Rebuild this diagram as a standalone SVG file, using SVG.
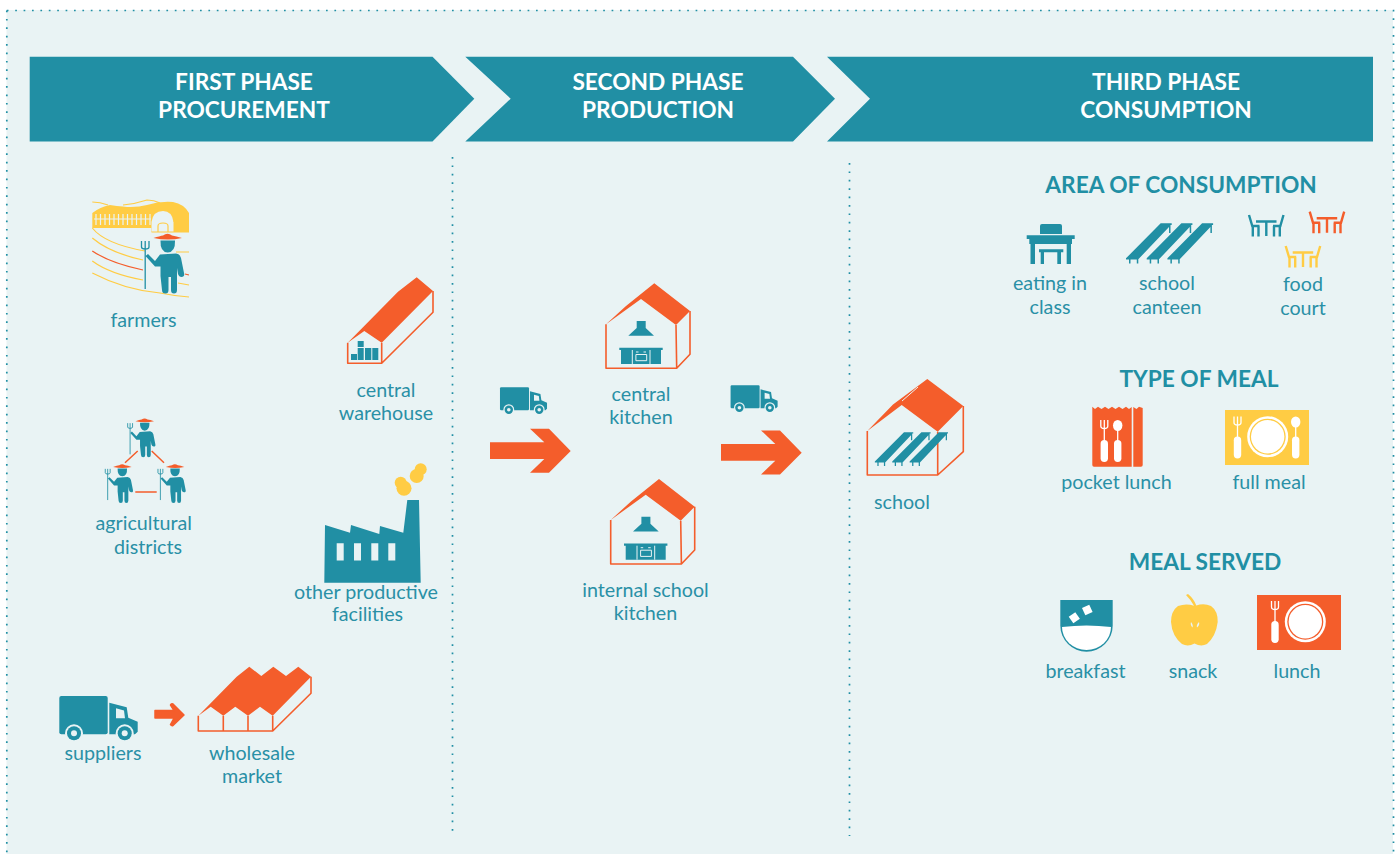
<svg xmlns="http://www.w3.org/2000/svg" xmlns:xlink="http://www.w3.org/1999/xlink" width="1399" height="854" viewBox="0 0 1399 854">
<style>
text{font-family:Lato,"Liberation Sans",sans-serif;text-anchor:middle}
.l{font-size:19.700px;fill:#2a90a6}
.h{font-size:22.700px;font-weight:700;fill:#fff}
.s{font-size:22.700px;font-weight:700;fill:#218fa4}
.t{fill:#218fa4}.o{fill:#f45d2b}.y{fill:#ffcc44}.w{fill:#fff}.b{fill:#e9f3f4}
.ol{fill:none;stroke:#f45d2b;stroke-width:1.600;stroke-linejoin:round}
.d{fill:none;stroke:#218fa4;stroke-width:1.700;stroke-dasharray:1.700 6.700}
.ch{fill:none;stroke-width:2.400}
</style>
<defs>
<g id="farmer">
<path class="o" d="M153.500 238Q160 236 163 235.500Q167.500 232 172 235.500Q176 236 182 238Q168 241 153.500 238Z"/>
<path class="t" d="M160.500 240.500H175Q175.500 252 167.700 252.500Q160 252 160.500 240.500Z"/>
<path class="t" d="M145.500 256L148 254L155 261L160 254.500L176 253.500Q180 254 181 258L184 273Q185 277 181.500 277Q179 277 178 274L177 268V290Q177 293.500 174 293.500Q171 293.500 171 290V277H168.500V290Q168.500 293.500 165.500 293.500Q162 293.500 162 290L160.500 276V266.500H155Z"/>
<path fill="none" stroke="#218fa4" stroke-width="1.300" d="M145.200 241V289M141.500 241V247Q141.500 249 145.200 249Q149 249 149 247V241"/>
</g>
<g id="truck">
<rect class="t" x="59.300" y="696" width="48.400" height="38.300" rx="2"/>
<path class="t" d="M109.300 702.700L126.700 707.300L128.300 717.700L137.700 721.700V731.700L135 734.300H109.300Z"/>
<path class="b" d="M116 708.300L124 710.500L125 718.300H116Z"/>
<circle class="b" cx="74" cy="733.300" r="9"/><circle class="t" cx="74" cy="733.300" r="7"/><circle class="b" cx="74" cy="733.300" r="3"/>
<circle class="b" cx="124.700" cy="733.300" r="9"/><circle class="t" cx="124.700" cy="733.300" r="7"/><circle class="b" cx="124.700" cy="733.300" r="3"/>
</g>
<g id="kitchen">
<path class="o" d="M654.300 283.300L690 311L676 325L641 299L606 324.300L626 306Z"/>
<path class="ol" d="M606 324.300V368.300H676.700L690 354.300V311M676 325L676.700 368.300"/>
<path class="t" d="M636.700 321H645.700V328L654 335.700H628.300L636.700 328Z"/>
<path class="t" d="M619.300 347.700H662.700V350H661V364H621V350H619.300Z"/>
<path fill="none" stroke="#e9f3f4" stroke-width="1" d="M632.300 350V364M650 350V364M635.900 354.500H646.700V360.700H635.900ZM636 352H638.500M643.500 352H646"/>
</g>
<path id="arrow" class="o" d="M490 442.300H544.300L530 428.700H549L570.700 451L549 472.700H530L544.300 459H490Z"/>
<g id="canteen">
<path id="bench" class="t" d="M1126 258.300L1160.700 223.300H1171.700L1171.700 225L1170.500 225V233H1169V227L1138.300 259.300V263.500H1136.800V259.500H1130.500V263.500H1129V259.500H1126Z"/>
<use xlink:href="#bench" x="20.700"/><use xlink:href="#bench" x="41.400"/>
</g>
<g id="seat">
<path class="ch" d="M1249 215L1252.300 226H1259.500M1252.800 226V236.500M1258.500 226V236.500M1256 221.500H1276.500M1266.300 221.500V236M1283.500 215L1280.300 226H1273M1279.800 226V236.500M1274 226V236.500"/>
</g>
<g id="fork">
<path fill="none" stroke="#fff" stroke-width="1.300" d="M0 -21V-15Q0 -13 0 -12V0M-3.500 -21V-15Q-3.500 -12.500 0 -12.500Q3.500 -12.500 3.500 -15V-21"/>
<rect class="w" x="-3.700" y="-1" width="7.400" height="22" rx="3.700"/>
</g>
<g id="spoon">
<ellipse class="w" cx="0" cy="-15.500" rx="4.700" ry="5.500"/>
<path stroke="#fff" stroke-width="1.300" d="M0 -12V0"/>
<rect class="w" x="-3.700" y="-1" width="7.400" height="22" rx="3.700"/>
</g>
</defs>

<rect width="1399" height="854" class="w"/>
<rect x="6.500" y="10" width="1386.500" height="844" class="b"/>
<path class="d" d="M6.800 10.500H1393.500V854M6.800 10.500V854"/>
<path class="d" d="M452.500 157V831M849.500 163V836"/>

<g id="phase1">
<path class="t" d="M29.700 56.700H432.500L474.300 98.700L432.500 141.500H29.700Z"/>
<text class="h"><tspan x="244" y="90">FIRST PHASE</tspan><tspan x="244" y="118">PROCUREMENT</tspan></text>
</g>
<g id="phase2">
<path class="t" d="M465.300 56.700H793L835 98.700L793 141.500H465.300L510.700 98.700Z"/>
<text class="h"><tspan x="658" y="90">SECOND PHASE</tspan><tspan x="658" y="118">PRODUCTION</tspan></text>
</g>
<g id="phase3">
<path class="t" d="M827 56.700H1373V141.500H827L870 98.700Z"/>
<text class="h"><tspan x="1166" y="90">THIRD PHASE</tspan><tspan x="1166" y="118">CONSUMPTION</tspan></text>
</g>

<g id="farmers">
<path class="y" d="M92.300 213Q100 207 110 205Q117 206 123 206.500Q135 208 147 205Q160 201 173 202Q184 204 189 213V232H151.300V228H92.300Z"/>
<path class="b" d="M151.500 232V222Q153 211 163 211Q172 211 173.500 222V232Z"/>
<path class="y" d="M173.500 214H189V222H173.500Z"/>
<path fill="none" stroke="#ffcc44" stroke-width="1.200" d="M151.500 232H189M158 232V226Q158 223 163 223Q168 223 168 226V232"/>
<path fill="none" stroke="#e9f3f4" stroke-width="1.200" d="M94 219H151M96 214V225M100.500 214V225M105 214V225M109.500 214V225M114 214V225M118.500 214V225M123 214V225M127.500 214V225M132 214V225M136.500 214V225M141 214V225M145.500 214V225M150 214V225"/>
<g fill="none" stroke="#ffcc44" stroke-width="1.200">
<path d="M92.300 202Q100 202 108 205M123 205Q135 204 147 200Q154 200 160 203"/>
<path d="M92.300 228Q105 244 145 251M176 252H189"/>
<path d="M92.300 238Q110 253 143 260"/>
<path d="M92.300 261Q110 274 143 280M178 283L189 285"/>
<path d="M92.300 273Q125 290 160 293Q175 296 189 297"/>
<path stroke="#f45d2b" d="M92.300 251Q110 263 143 270M185 274L189 275"/>
</g>
<use xlink:href="#farmer"/>
<text class="l" x="143.500" y="327">farmers</text>
</g>

<g id="central-warehouse">
<path class="o" d="M416.700 277.300L433 291L381.700 342.700L364.300 331L347.700 342.700L398 291.700Z"/>
<path class="ol" d="M347.700 342.700V363.300H381.700L433 312.300V291M381.700 342.700V363.300"/>
<path class="t" d="M351 354H357V360H351ZM357.700 341H363.700V347H357.700ZM357.700 348H363.700V360H357.700ZM365 348H371.300V360H365ZM372.300 348H378.300V360H372.300Z"/>
<text class="l"><tspan x="386" y="397">central</tspan><tspan x="386" y="419.500">warehouse</tspan></text>
</g>

<g id="agricultural-districts">
<use xlink:href="#farmer" transform="translate(35.700 266.500) scale(.65)"/>
<use xlink:href="#farmer" transform="translate(13.300 312.200) scale(.65)"/>
<use xlink:href="#farmer" transform="translate(66 312.200) scale(.65)"/>
<path fill="none" stroke="#f45d2b" stroke-width="1.500" d="M137.700 451L125 462.700M151.700 451L164 462.700M135.300 492H156.700"/>
<text class="l"><tspan x="143.700" y="530">agricultural</tspan><tspan x="148" y="553.500">districts</tspan></text>
</g>

<g id="other-productive-facilities">
<path class="t" d="M325 525L350 532.700L351 525L379.300 534L380 526L403.300 532.700L407.300 500H419L420.700 582.700H324.300Z"/>
<path class="b" d="M336.700 543.300H343.700V560.600H336.700ZM354 543.300H361V560.600H354ZM371.300 543.300H378.300V560.600H371.300ZM388.300 543.300H395.300V560.600H388.300Z"/>
<circle class="y" cx="400.700" cy="482.700" r="6"/><circle class="y" cx="404" cy="488.300" r="7.500"/>
<circle class="y" cx="420.700" cy="469.300" r="6"/><circle class="y" cx="416.700" cy="476" r="7"/>
<text class="l"><tspan x="366" y="599">other productive</tspan><tspan x="367.500" y="621">facilities</tspan></text>
</g>

<g id="suppliers">
<use xlink:href="#truck"/>
<text class="l" x="103" y="760">suppliers</text>
</g>

<g id="wholesale-market">
<path class="o" d="M249.300 666.700L261.300 676L273.300 666.700L286 676L298.300 666.700L311 676.700L272.700 715.700L260 706.700L248 715.700L235.300 706.700L223.300 715.700L210.700 706.700L198.300 715.700L236.700 676.700Z"/>
<path class="ol" d="M198.300 715.700V731H272.700L311 693.300V676.700M223.300 715.700V731M248 715.700V731M272.700 715.700V731"/>
<text class="l"><tspan x="252" y="760">wholesale</tspan><tspan x="252" y="783">market</tspan></text>
</g>

<g id="connectors">
<path class="o" stroke="#f45d2b" stroke-width="1.500" stroke-linejoin="round" d="M155 710.500H174L170.500 705Q171.500 703.500 173 704L184 715L173 725.500Q171.500 726 170.500 724.500L174 718H155Z"/>
<use xlink:href="#arrow"/>
<use xlink:href="#arrow" transform="translate(231 1.700)"/>
<use xlink:href="#truck" transform="translate(464.400 -30.300) scale(.6)"/>
<use xlink:href="#truck" transform="translate(695 -32.300) scale(.6)"/>
</g>

<g id="central-kitchen">
<use xlink:href="#kitchen"/>
<text class="l"><tspan x="641" y="401">central</tspan><tspan x="641" y="424">kitchen</tspan></text>
</g>
<g id="internal-school-kitchen">
<use xlink:href="#kitchen" transform="translate(4.700 195.700)"/>
<text class="l"><tspan x="645.500" y="597">internal school</tspan><tspan x="645.500" y="620">kitchen</tspan></text>
</g>

<g id="school">
<path class="o" d="M927.300 379L963.300 406L937.700 431.700L901.700 405L867.300 431L893 404.500Z"/>
<path class="ol" d="M867.300 431V475H937.700L963.300 451.700V406M937.700 431.700V475"/>
<path stroke="#e9f3f4" stroke-width="1" d="M902 401L918 387"/>
<use xlink:href="#canteen" transform="translate(-71 244.600) scale(.84)"/>
<text class="l" x="902" y="509">school</text>
</g>

<text class="s" x="1181" y="193">AREA OF CONSUMPTION</text>
<g id="eating-in-class">
<path class="t" d="M1040 226Q1040 224 1042 224H1060Q1062 224 1062 226V234H1040ZM1026.700 235.300H1074.700V239H1072V244H1071V264H1066.700V244H1035V264H1030.500V244H1029.300V239H1026.700ZM1039 249.300H1063.300V252.300H1061V264H1057.300V252.300H1044V264H1040.700V252.300H1039Z"/>
<text class="l"><tspan x="1050" y="290">eating in</tspan><tspan x="1050" y="314">class</tspan></text>
</g>
<g id="school-canteen">
<use xlink:href="#canteen"/>
<text class="l"><tspan x="1167" y="290">school</tspan><tspan x="1167" y="314">canteen</tspan></text>
</g>
<g id="food-court">
<use xlink:href="#seat" stroke="#218fa4"/>
<use xlink:href="#seat" stroke="#f45d2b" transform="translate(60.700 -3.300)"/>
<use xlink:href="#seat" stroke="#ffcc44" transform="translate(36.700 31)"/>
<text class="l"><tspan x="1303" y="291">food</tspan><tspan x="1303" y="315">court</tspan></text>
</g>

<text class="s" x="1199" y="387">TYPE OF MEAL</text>
<g id="pocket-lunch">
<path class="o" d="M1092.300 406.700L1095 409L1098 406.800L1101.500 409L1105 406.800L1108.500 409L1112 406.800L1115.500 409L1119 406.800L1122.500 409L1126 406.800L1129 409L1131.700 407V466.700H1094Q1092.300 466.700 1092.300 465ZM1133.300 407L1136.500 409L1139 406.800L1142.700 408V465Q1142.700 466.700 1141 466.700H1133.300Z"/>
<use xlink:href="#fork" transform="translate(1104.300 441)"/>
<use xlink:href="#spoon" transform="translate(1117.700 441)"/>
<text class="l" x="1116.500" y="489">pocket lunch</text>
</g>
<g id="full-meal">
<rect class="y" x="1225" y="410" width="84" height="55"/>
<use xlink:href="#fork" transform="translate(1237.500 437.500)"/>
<use xlink:href="#spoon" transform="translate(1295.700 437.500)"/>
<circle class="w" cx="1267.700" cy="436.700" r="20.500"/><circle class="y" cx="1267.700" cy="436.700" r="18"/><circle class="w" cx="1267.700" cy="436.700" r="16.700"/>
<text class="l" x="1269" y="489">full meal</text>
</g>

<text class="s" x="1205" y="570">MEAL SERVED</text>
<g id="breakfast">
<path class="t" d="M1060.300 600H1112.700V625.500A26.200 26.200 0 0 1 1060.300 625.500Z"/>
<path class="w" d="M1062 627Q1086.500 624 1111 627A24.500 23 0 0 1 1062 627Z"/>
<rect class="w" x="-4" y="-4" width="8" height="8" transform="translate(1074.300 617.700) rotate(-35)"/>
<rect class="w" x="-4" y="-4" width="8" height="8" transform="translate(1087.300 610) rotate(-25)"/>
<text class="l" x="1085.500" y="678">breakfast</text>
</g>
<g id="snack">
<path class="y" d="M1186 595L1188 594Q1194 599 1196.300 605.500Q1204 603 1211 606Q1218 611 1217.700 622Q1216 636 1207 644Q1201 647 1194.500 643.500Q1188 647 1182 644Q1172 636 1171 622Q1171 611 1178 606Q1186 603 1194 605.800Q1191 600 1186 595Z"/>
<path class="b" d="M1191 622Q1190 625 1192.500 627.500Q1193.500 625 1191 622ZM1199 622Q1200 625 1197 627.500Q1196 625 1199 622Z"/>
<text class="l" x="1193" y="678">snack</text>
</g>
<g id="lunch">
<rect class="o" x="1257" y="595" width="84" height="55"/>
<use xlink:href="#fork" transform="translate(1275 622)"/>
<circle class="w" cx="1305.300" cy="621.700" r="20.500"/><circle class="o" cx="1305.300" cy="621.700" r="18"/><circle class="w" cx="1305.300" cy="621.700" r="16.700"/>
<text class="l" x="1297" y="678">lunch</text>
</g>
</svg>
